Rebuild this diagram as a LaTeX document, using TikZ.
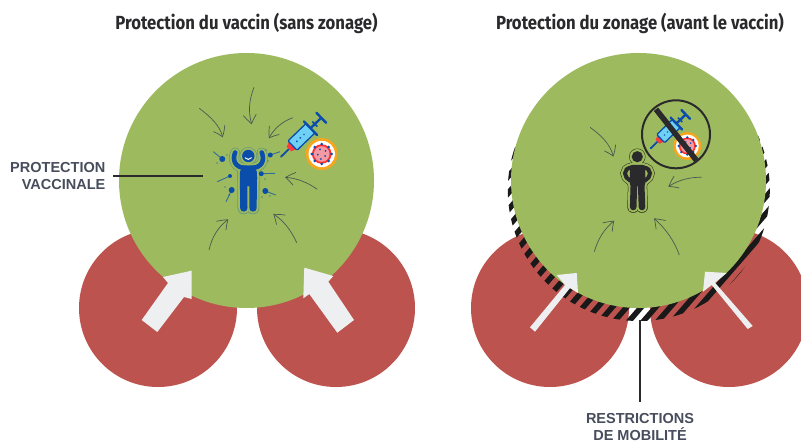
\documentclass[tikz,border=0pt]{standalone}
\usepackage{fontspec}
\usetikzlibrary{arrows.meta,bending}
\setmainfont{Liberation Sans}
\newfontfamily\titlefont[FakeStretch=0.88]{Fira Sans}
\definecolor{gr}{HTML}{9EBA5F}
\definecolor{rd}{HTML}{BD534E}
\definecolor{arw}{HTML}{EEEFF1}
\definecolor{lab}{HTML}{474D5C}
\definecolor{ttl}{HTML}{2A2A2C}
\definecolor{blu}{HTML}{0A4DAA}
\definecolor{hal}{HTML}{6C9C78}
\definecolor{cyn}{HTML}{6FD0F5}
\definecolor{pnk}{HTML}{F49AA4}
\definecolor{org}{HTML}{F8A51E}
\definecolor{sketch}{HTML}{4B5852}
\tikzset{
  titlenode/.style={font=\titlefont\bfseries\fontsize{19}{21}\selectfont,text=ttl,inner sep=0pt,anchor=center},
  labelnode/.style={font=\bfseries\fontsize{14.5}{17}\selectfont,text=lab,inner sep=0pt,align=#1},
  labelnode/.default=center,
  leader/.style={draw=ttl,line width=2.6pt},
  sk/.style={draw=sketch,line width=0.7pt,-{Straight Barb[length=9pt,width=13pt,bend]}},
  tail/.style={draw=blu!60!hal,line width=0.9pt},
  flowarrow/.style={fill=arw,draw=none},
  syr/.pic={
    \draw[blu,line width=1.8pt,line cap=round] (0,0)--(11,0);
    \fill[red!70!pink] (11,-3.2) -- (16,-5) -- (16,5) -- (11,3.2) -- cycle;
    \draw[blu,line width=1.3pt,fill=cyn,rounded corners=1pt] (16,-6.5) rectangle (41,6.5);
    \fill[blu] (22,0) circle (1pt) (27,0) circle (1pt) (32,0) circle (1pt);
    \draw[blu,line width=2.4pt,line cap=round] (41,-9.5)--(41,9.5);
    \draw[blu,line width=2.4pt] (41,0)--(56,0);
    \draw[blu,line width=2.4pt,line cap=round] (56,-7)--(56,7);
    \draw[blu,line width=1.6pt] (47,-3.5)--(47,3.5);
  },
  virus/.pic={
    \fill[org] (0,0) circle (16);
    \fill[white] (0,0) circle (13.2);
    \fill[red!75!pink] (0,0) circle (9.8);
    \fill[pnk] (0,0) circle (7.8);
    \foreach \a in {0,45,...,315}{\fill[blu] (\a:9.8) circle (1.5pt);}
    \foreach \a/\r in {30/4,100/5,170/4,250/5,320/5}{\fill[blu] (\a:\r) circle (1pt);}
  }
}
\newcommand{\bluefig}[2]{%
  \fill[#2] (248.3,156) circle ({6.2+#1/2});
  \draw[#2,line width={7.4+#1},line cap=round] (243.6,172)--(243.8,208);
  \draw[#2,line width={7.4+#1},line cap=round] (253.2,172)--(253,208);
  \fill[#2,draw=#2,line width={0.1+#1},line join=round] (241.7,165.5)--(255.7,165.5)--(256.5,186)--(241,186)--cycle;
  \draw[#2,line width={4.6+#1},line cap=round] (246,168) .. controls (235,168) and (232,160) .. (235.2,152.5);
  \draw[#2,line width={4.6+#1},line cap=round] (251,168) .. controls (262,168) and (265,160) .. (261.7,152.5);
}
\newcommand{\blackfig}[2]{%
  \fill[#2] (637.3,156.7) circle ({5.6+#1/2});
  \draw[#2,line width={6.6+#1},line cap=round] (634,180)--(633.2,207);
  \draw[#2,line width={6.6+#1},line cap=round] (641,180)--(642,207);
  \fill[#2,draw=#2,line width={0.1+#1},line join=round,rounded corners=2pt] (630,165)--(645,165)--(645,186)--(630,186)--cycle;
  \draw[#2,line width={4+#1},line cap=round] (632,167.5) .. controls (622,168) and (624,178) .. (630,180.5);
  \draw[#2,line width={4+#1},line cap=round] (643,167.5) .. controls (653,168) and (651,178) .. (645,180.5);
}
\begin{document}
\begin{tikzpicture}[x=1pt,y=-1pt]
\useasboundingbox (0,0) rectangle (801,444);
\fill[white] (0,0) rectangle (801,444);
\clip (0,0) rectangle (801,444);
% titles
\node[titlenode] (titleL) at (246.5,23.5) {Protection du vaccin (sans zonage)};
\node[titlenode] (titleR) at (640,23.5) {Protection du zonage (avant le vaccin)};
% left scene
\fill[rd] (158,308) circle (79);
\fill[rd] (336,308) circle (79);
\fill[gr] (246.5,180.5) circle (127.5);
\fill[flowarrow] (191.7,270.7)--(163,277)--(168,283)--(141.7,320)--(157.3,332)--(184,297)--(191.7,299)--cycle;
\fill[flowarrow] (304.3,267.7)--(333.3,276)--(328.3,281.7)--(354,320)--(337.3,332.7)--(309.3,294)--(303.3,298.3)--cycle;
% right scene
\fill[rd] (550,308) circle (79);
\fill[rd] (729,308) circle (79);
\begin{scope}
  \clip (638.8,190) circle (131);
  \foreach \k in {-24,...,24}
    \draw[black!90,line width=5.5pt] ({612.7+14.5*\k},340) -- ({612.7+14.5*\k+217},90);
\end{scope}
\fill[gr] (638.5,180.5) circle (127.5);
\fill[flowarrow] (576.7,273)--(556.7,275)--(565,285)--(530,327.3)--(535,331.7)--(570,288)--(578,293)--cycle;
\fill[flowarrow] (705,271.7)--(726.7,273)--(715,282.7)--(752.7,326)--(747.7,329)--(711.7,285)--(703,291.7)--cycle;
% blue figure
\bluefig{5.4}{hal}
\bluefig{3.8}{gr}
\bluefig{0}{blu}
\draw[white,line width=1pt,line cap=round] (245.2,157.8) .. controls (246.5,160) and (250,160) .. (251.4,157.8);
\foreach \px/\py/\r/\tx/\ty in {222.3/159/3/213.3/151.7,230/176/2/217.3/181.7,231.7/190/3/226/201.7,265.3/191/3/275.7/195,261.3/173.7/2.5/275/173.3,270.3/155/2.5/280/151.7}{
  \draw[tail] (\px,\py)--(\tx,\ty);
  \fill[blu] (\px,\py) circle (\r);
}
\foreach \px/\py in {217/163,227/155,225/187,229/195,262/197,270/196,257/178,265/179,266/150,268/161}
  \fill[blu] (\px,\py) circle (0.7);
% sketch arrows, left
\draw[sk] (199.3,108.3) .. controls (212,118) and (220,126) .. (222.7,137.3);
\draw[sk] (254,87.3) .. controls (249,100) and (248,112) .. (251.7,124.3);
\draw[sk] (292.7,117.7) .. controls (281,122) and (273,130) .. (269,138.3);
\draw[sk] (317.3,189.3) .. controls (307,182) and (296,178) .. (285,177.3);
\draw[sk] (296.7,242.7) .. controls (291,230) and (283,220) .. (273.3,214);
\draw[sk] (209,250) .. controls (212,237) and (218,227) .. (228.3,219.3);
% syringe and virus, left
\path (321.7,154) pic[scale=1] {virus};
\path (281,156.7) pic[rotate=44,scale=1] {syr};
% black figure
\blackfig{5.2}{black!75!gr}
\blackfig{4.2}{gr}
\blackfig{0}{ttl}
% sketch arrows, right
\draw[sk] (590,127.3) .. controls (601,135) and (611,145) .. (613.3,156.7);
\draw[sk] (701.7,177.3) .. controls (690,177) and (678,180) .. (668.3,186.7);
\draw[sk] (679.3,255) .. controls (674,240) and (665,228) .. (654,218.3);
\draw[sk] (594.3,251.7) .. controls (598,239) and (604,229) .. (614.3,220.7);
% forbidden vaccine
\path (687.3,146) pic[scale=0.87] {virus};
\path (650.7,148.3) pic[rotate=44,scale=0.87] {syr};
\draw[ttl,line width=2pt] (676,134.3) circle (34);
\draw[ttl,line width=5.5pt] (656,109.3)--(696.7,160.7);
% labels
\node[labelnode=right,anchor=east] (lblprot) at (105.5,176) {PROTECTION\\VACCINALE};
\coordinate (protend) at (203,176);
\draw[leader] ([xshift=7.5pt]lblprot.east) -- (protend);
\node[labelnode=center] (lblrest) at (640,427.5) {RESTRICTIONS\\DE MOBILITÉ};
\coordinate (resttop) at (lblrest.north |- 0,320);
\draw[leader] ([yshift=12pt]lblrest.north) -- (resttop);
\end{tikzpicture}
\end{document}
